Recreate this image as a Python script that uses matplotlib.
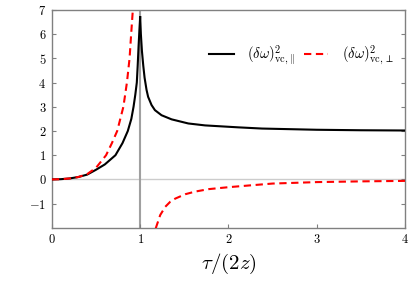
import matplotlib
matplotlib.use("Agg")
import matplotlib.pyplot as plt

plt.rcParams['mathtext.fontset'] = 'cm'
plt.rcParams['font.family'] = ['DejaVu Serif']
plt.rcParams['axes.formatter.use_mathtext'] = True

# black curve (parallel), left and right of the cusp at x = 1
par_left_x = [0.0, 0.1, 0.2, 0.3, 0.4, 0.5, 0.6, 0.72, 0.8, 0.86, 0.9, 0.925, 0.945, 0.962, 0.972, 0.982, 0.992, 1.0]
par_left_y = [0.0, 0.01, 0.04, 0.1, 0.2, 0.4, 0.62, 1.0, 1.5, 2.0, 2.5, 3.0, 3.5, 4.0, 4.7, 5.5, 6.2, 6.7]
par_right_x = [1.0, 1.008, 1.02, 1.035, 1.05, 1.072, 1.09, 1.129, 1.167, 1.242, 1.356, 1.545, 1.735, 2.11, 2.38, 3.0, 3.5, 4.0]
par_right_y = [6.7, 6.0, 5.3, 4.7, 4.2, 3.7, 3.41, 3.07, 2.86, 2.65, 2.48, 2.31, 2.23, 2.15, 2.10, 2.05, 2.03, 2.02]

# red dashed curve (perpendicular)
perp_left_x = [0.0, 0.1, 0.2, 0.3, 0.4, 0.5, 0.614, 0.68, 0.74, 0.81, 0.85, 0.88, 0.898, 0.917, 0.93]
perp_left_y = [0.0, 0.01, 0.04, 0.1, 0.22, 0.48, 1.0, 1.5, 2.0, 3.0, 4.0, 5.0, 6.0, 7.0, 7.8]
perp_right_x = [1.15, 1.178, 1.227, 1.284, 1.341, 1.398, 1.511, 1.625, 1.777, 2.0, 2.23, 2.5, 3.0, 3.5, 4.0]
perp_right_y = [-2.5, -2.0, -1.47, -1.13, -0.92, -0.79, -0.61, -0.50, -0.40, -0.32, -0.25, -0.17, -0.11, -0.08, -0.06]

xticks = [0, 1, 2, 3, 4]
yticks = [-1, 0, 1, 2, 3, 4, 5, 6, 7]

fig = plt.figure(figsize=(4.15, 2.81), dpi=100)
ax = fig.add_axes([0.125, 0.189, 0.851, 0.776])

ax.axhline(0, color='#cccccc', lw=1.0, zorder=1)
ax.axvline(1, color='#a0a0a0', lw=1.5, zorder=1)

ax.plot(par_left_x, par_left_y, color='black', lw=1.5, zorder=3,
        label=r'$(\delta\omega)^2_{\mathrm{vc},\|}$')
ax.plot(par_right_x, par_right_y, color='black', lw=1.5, zorder=3)
ax.plot(perp_left_x, perp_left_y, color='red', lw=1.5, ls=(0, (3.5, 2.2)), zorder=4,
        label=r'$(\delta\omega)^2_{\mathrm{vc},\perp}$')
ax.plot(perp_right_x, perp_right_y, color='red', lw=1.5, ls=(0, (3.5, 2.2)), zorder=4)

ax.set_xlim(0, 4)
ax.set_ylim(-2, 7)
ax.set_xticks(xticks)
ax.set_yticks(yticks)
ax.set_xticklabels([rf'${t}$' for t in xticks])
ax.set_yticklabels([rf'${t}$' if t >= 0 else rf'$-{abs(t)}$' for t in yticks])
ax.tick_params(direction='in', length=3, width=0.8, color='#808080',
               labelsize=9, top=False, right=True, pad=4)
for s in ax.spines.values():
    s.set_color('#808080')
    s.set_linewidth(1.0)

ax.set_xlabel(r'$\tau/(2z)$', fontsize=15, labelpad=4)

ax.legend(loc='center right', bbox_to_anchor=(0.985, 0.79), ncol=2, frameon=False,
          fontsize=10.5, handlelength=1.7, columnspacing=0.6, handletextpad=0.9,
          borderaxespad=0)

fig.savefig('out.png', dpi=100)
